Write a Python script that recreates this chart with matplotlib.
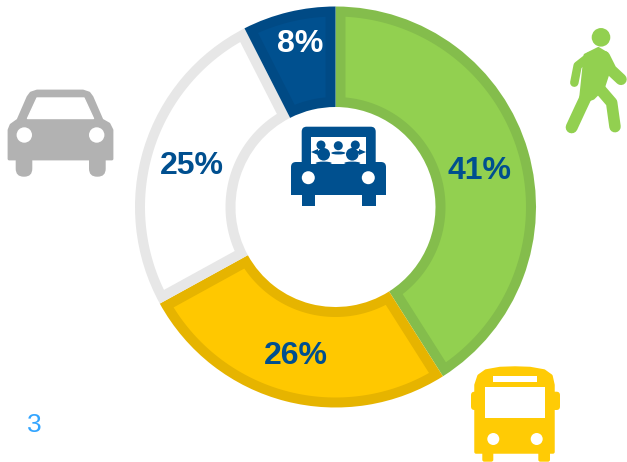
import numpy as np
import matplotlib
matplotlib.use("Agg")
import matplotlib.pyplot as plt
from matplotlib.patches import Circle, Polygon, FancyBboxPatch, Ellipse
from matplotlib.lines import Line2D

plt.rcParams['font.family'] = ['Liberation Sans', 'DejaVu Sans']

W, H = 627, 462
# Share of trips by mode (slice sizes; labels as printed)
modes = ["Walk", "Bus", "Car", "Carpool"]
shares = [41, 26, 25.5, 7.5]
share_labels = ["41%", "26%", "25%", "8%"]
fills = ["#92d050", "#ffc800", "#ffffff", "#00508f"]
borders = ["#84bd4c", "#e6b400", "#e7e7e7", "#004a85"]
label_colors = ["#004f8f", "#004f8f", "#004f8f", "#ffffff"]
label_xy = [(480, 171), (296, 356), (192, 165.5), (300, 44.5)]
page_number = "3"

fig = plt.figure(figsize=(W / 100, H / 100), dpi=100)
ax = fig.add_axes([0, 0, 1, 1])

cx, cy, R, r = 335.5, 207, 200.5, 100
border_w = 10
wedges, _ = ax.pie(shares, colors=borders, startangle=90, counterclock=False,
                   center=(cx, H - cy), radius=R,
                   wedgeprops=dict(width=R - r, linewidth=0))
for w, f in zip(wedges, fills):
    # inner fill: the wedge inset by a constant border width on all four sides
    ro, ri = R - border_w, r + border_w
    do, di = np.degrees(np.arcsin(border_w / ro)), np.degrees(np.arcsin(border_w / ri))
    to = np.radians(np.linspace(w.theta1 + do, w.theta2 - do, 90))
    ti = np.radians(np.linspace(w.theta2 - di, w.theta1 + di, 90))
    rr = np.r_[np.full(90, ro), np.full(90, ri)]
    tt = np.r_[to, ti]
    ax.add_patch(Polygon(np.c_[cx + rr * np.cos(tt), H - cy + rr * np.sin(tt)],
                         closed=True, fc=f, ec='none', lw=0, zorder=2))

ax.set_xlim(0, W)
ax.set_ylim(0, H)
ax.set_aspect('equal')
ax.axis('off')

def P(x, y):
    return (x, H - y)

def poly(pts, color, lw=0, z=3):
    ax.add_patch(Polygon([P(*p) for p in pts], closed=True, fc=color,
                         ec=color if lw else 'none', lw=lw, joinstyle='round', zorder=z))

def rrect(x0, y0, x1, y1, rad, color, z=3):
    ax.add_patch(FancyBboxPatch((x0, H - y1), x1 - x0, y1 - y0,
                                boxstyle=f"round,pad=0,rounding_size={rad}",
                                fc=color, ec='none', lw=0, zorder=z))

def circ(x, y, rad, color, z=4):
    ax.add_patch(Circle(P(x, y), rad, fc=color, ec='none', lw=0, zorder=z))

def ell(x, y, w, h, color, z=5):
    ax.add_patch(Ellipse(P(x, y), w, h, fc=color, ec='none', lw=0, zorder=z))

def limb(pts, width, color, z=3):
    xy = [P(*p) for p in pts]
    ax.add_line(Line2D([a for a, _ in xy], [b for _, b in xy], color=color,
                       lw=width * 0.72, solid_capstyle='round',
                       solid_joinstyle='round', zorder=z))

for t, c, xy in zip(share_labels, label_colors, label_xy):
    ax.text(*P(*xy), t, color=c, fontsize=23, fontweight='bold',
            ha='center', va='center', zorder=6)

ax.text(*P(34, 425), page_number, color="#33a5ff", fontsize=19,
        ha='center', va='center', zorder=6)

# centre icon: car with passengers
blue = "#00508f"
rrect(301.7, 126.7, 375.7, 175, 5, blue)
rrect(291, 162, 386, 195, 5, blue)
poly([(291, 175), (386, 175), (386, 195), (291, 195)], blue)
poly([(301.7, 190), (315, 190), (315, 206), (301.7, 206)], blue)
poly([(362, 190), (375.7, 190), (375.7, 206), (362, 206)], blue)
poly([(311, 137), (366, 137), (366, 164), (311, 164)], "#ffffff", z=4)
circ(308.3, 177.7, 6.5, "#ffffff")
circ(368.3, 177.7, 6.5, "#ffffff")
for hx, hy, hr, sh in [(321, 145, 4.5, 7), (338.3, 145.7, 4.5, 7), (355.3, 145, 4.5, 7),
                       (323.7, 154.3, 6.3, 8), (352.3, 154.3, 6.3, 8)]:
    circ(hx, hy, hr, blue, z=5)
    ell(hx, hy + hr + 2.8 if hr < 5 else hy + hr + 2.5, sh * 2, 3, blue)
poly([(311, 152), (318, 149), (318, 155)], blue, z=5)
poly([(366, 152), (359, 149), (359, 155)], blue, z=5)

# grey car
grey = "#b2b2b2"
poly([(9, 159), (9, 130), (11, 125), (18, 120), (28, 97), (31, 93), (37, 91), (83, 91), (89, 93), (92, 97),
      (102, 120), (109, 124), (112, 130), (112, 159)], grey, lw=2)
poly([(27.5, 118.5), (37, 98), (84, 98), (93.5, 118.5)], "#ffffff", lw=1, z=4)
rrect(15.7, 150, 32.3, 176.7, 8, grey)
rrect(89, 150, 105.7, 176.7, 8, grey)
circ(24.3, 135, 7.7, "#ffffff")
circ(96.7, 135, 7.7, "#ffffff")

# yellow bus
yellow = "#ffcb05"
rrect(471, 391.7, 560, 410, 3.5, yellow)
poly([(476, 452), (476, 385), (479, 376), (486, 371), (500, 368.5), (515, 368), (530, 368.5),
      (544, 371), (551, 376), (553, 385), (553, 452)], yellow, lw=2.5)
poly([(493, 376), (537.3, 376), (537.3, 382.3), (493, 382.3)], "#ffffff", z=4)
poly([(485, 386.7), (545, 386.7), (545, 417.7), (485, 417.7)], "#ffffff", z=4)
circ(493.3, 439, 6, "#ffffff")
circ(536.7, 439, 6, "#ffffff")
rrect(482.3, 445, 493.3, 461.7, 2, yellow)
rrect(538.3, 445, 550, 461.7, 2, yellow)

# walking figure
green = "#92d050"
def Z(x, y):
    return (555 + x / 3, 20 + y / 3)
circ(*Z(138, 52), 9.3, green)
poly([Z(*p) for p in [(90, 105), (130, 85), (155, 100), (158, 165), (145, 205),
                      (115, 235), (75, 250)]], green, lw=2)
limb([Z(148, 110), Z(168, 150), Z(198, 178)], 11.5, green)
limb([Z(105, 108), Z(68, 137), Z(58, 188)], 8.5, green)
limb([Z(120, 190), Z(170, 248), Z(180, 320)], 11.5, green)
limb([Z(100, 215), Z(75, 268), Z(50, 322)], 12, green)

fig.savefig("out.png", dpi=100, facecolor="white")
